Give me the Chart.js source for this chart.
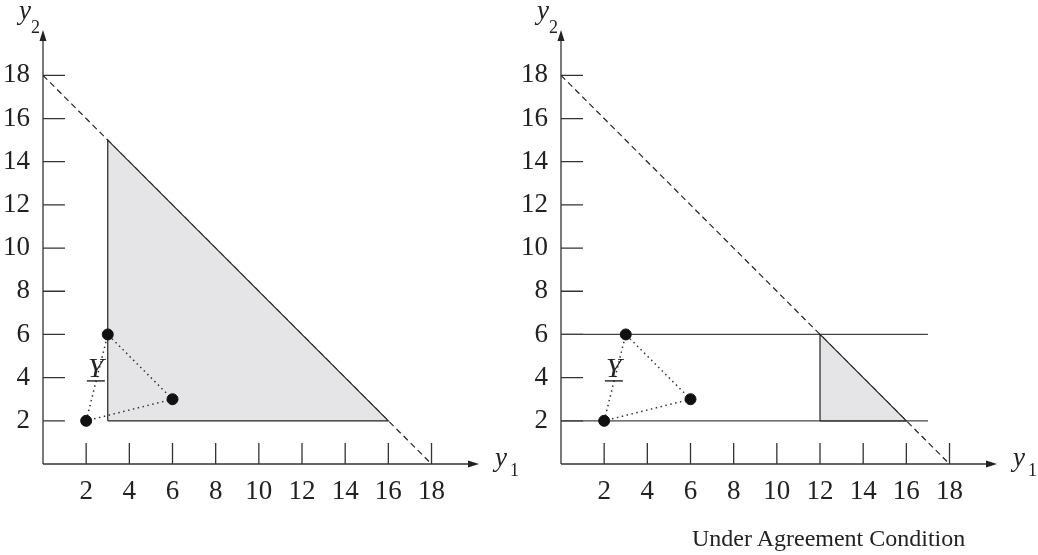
<!DOCTYPE html>
<html>
<head>
<meta charset="utf-8">
<script src="https://cdn.jsdelivr.net/npm/chart.js@4.4.0/dist/chart.umd.min.js"></script>
<style>
  html, body { margin: 0; padding: 0; background: #fff; }
  #wrap { position: relative; width: 1038px; height: 555px; }
  canvas { position: absolute; top: 0; }
  #left { left: 0; }
  #right { left: 518px; }
  #caption { position: absolute; left: 692px; top: 523px; font: 24px "Liberation Serif", serif; color: #222; line-height: 30px; white-space: nowrap; }
</style>
</head>
<body>
<div id="wrap">
  <canvas id="left" width="519" height="555"></canvas>
  <canvas id="right" width="519" height="555"></canvas>
  <div id="caption">Under Agreement Condition</div>
</div>
<script>
  'use strict';

  // axis ticks
  var ticksX = [2, 4, 6, 8, 10, 12, 14, 16, 18];
  var ticksY = [2, 4, 6, 8, 10, 12, 14, 16, 18];

  // dashed line y1 + y2 = 18
  var lineX = [0, 18];
  var lineY = [18, 0];

  // the three points of Y
  var pointsX = [2, 3, 6];
  var pointsY = [2, 6, 3];

  // shaded region, left panel
  var leftRegionX = [3, 3, 16, 3];
  var leftRegionY = [2, 15, 2, 2];

  // shaded region, right panel
  var rightRegionX = [12, 12, 16, 12];
  var rightRegionY = [2, 6, 2, 2];

  // horizontal bounds, right panel
  var boundsY = [2, 6];
  var boundsXEnd = 17;

  var serif = '"Liberation Serif", "Times New Roman", serif';

  function xy(xs, ys) {
    return xs.map(function (v, i) { return { x: v, y: ys[i] }; });
  }

  var axesPlugin = {
    id: 'axes',
    beforeDatasetsDraw: function (chart) {
      var ctx = chart.ctx, x = chart.scales.x, y = chart.scales.y;
      var x0 = x.getPixelForValue(0), y0 = y.getPixelForValue(0);
      var xEnd = x.getPixelForValue(x.max), yEnd = y.getPixelForValue(y.max);
      ctx.save();
      ctx.strokeStyle = '#333';
      ctx.fillStyle = '#222';
      ctx.lineWidth = 1.3;
      ctx.beginPath();
      ctx.moveTo(x0, y0); ctx.lineTo(xEnd - 6, y0);
      ctx.moveTo(x0, y0); ctx.lineTo(x0, yEnd + 6);
      ticksX.forEach(function (v) {
        var px = x.getPixelForValue(v);
        ctx.moveTo(px, y0); ctx.lineTo(px, y0 - 21);
      });
      ticksY.forEach(function (v) {
        var py = y.getPixelForValue(v);
        ctx.moveTo(x0, py); ctx.lineTo(x0 + 22, py);
      });
      ctx.stroke();
      // arrow heads
      ctx.beginPath();
      ctx.moveTo(xEnd, y0); ctx.lineTo(xEnd - 11, y0 - 3.5); ctx.lineTo(xEnd - 11, y0 + 3.5); ctx.closePath();
      ctx.moveTo(x0, yEnd); ctx.lineTo(x0 - 3.5, yEnd + 11); ctx.lineTo(x0 + 3.5, yEnd + 11); ctx.closePath();
      ctx.fill();
      ctx.restore();
    },
    afterDatasetsDraw: function (chart) {
      var ctx = chart.ctx, x = chart.scales.x, y = chart.scales.y;
      var x0 = x.getPixelForValue(0), y0 = y.getPixelForValue(0);
      var xEnd = x.getPixelForValue(x.max), yEnd = y.getPixelForValue(y.max);
      ctx.save();
      ctx.fillStyle = '#222';
      ctx.textBaseline = 'alphabetic';
      // y2 label
      ctx.font = 'italic 27px ' + serif;
      ctx.fillText('y', x0 - 24, yEnd - 11);
      ctx.font = '18px ' + serif;
      ctx.fillText('2', x0 - 12, yEnd + 3);
      // y1 label
      ctx.font = 'italic 27px ' + serif;
      ctx.fillText('y', xEnd + 16, y0 + 2);
      ctx.font = '18px ' + serif;
      ctx.fillText('1', xEnd + 31, y0 + 12);
      // Y label with underline
      var lx = x.getPixelForValue(2.45), ly = y.getPixelForValue(4.45);
      ctx.font = 'italic 28px ' + serif;
      ctx.textAlign = 'center';
      ctx.fillText('Y', lx, ly + 9);
      ctx.strokeStyle = '#222';
      ctx.lineWidth = 1.4;
      ctx.beginPath();
      ctx.moveTo(lx - 9, ly + 13); ctx.lineTo(lx + 9, ly + 13);
      ctx.stroke();
      ctx.restore();
    }
  };

  function makeChart(id, region, withBounds) {
    var datasets = [
      {
        data: xy(region.x, region.y),
        showLine: true, fill: 'shape', tension: 0,
        backgroundColor: '#e5e5e7', borderColor: '#222', borderWidth: 1.2,
        pointRadius: 0, order: 3
      },
      {
        data: xy(lineX, lineY),
        showLine: true, fill: false,
        borderColor: '#222', borderWidth: 1.2, borderDash: [6, 4],
        pointRadius: 0, order: 4
      },
      {
        data: xy(pointsX.concat(pointsX[0]), pointsY.concat(pointsY[0])),
        showLine: true, fill: false,
        borderColor: '#333', borderWidth: 1.5, borderDash: [1.5, 3.5],
        pointRadius: 0, order: 2
      },
      {
        data: xy(pointsX, pointsY),
        showLine: false,
        backgroundColor: '#111', borderColor: '#111',
        pointRadius: 5.5, order: 1
      }
    ];
    if (withBounds) {
      boundsY.forEach(function (b) {
        datasets.push({
          data: xy([0, boundsXEnd], [b, b]),
          showLine: true, fill: false,
          borderColor: '#444', borderWidth: 1.3,
          pointRadius: 0, order: 5
        });
      });
    }
    return new Chart(document.getElementById(id), {
      type: 'scatter',
      data: { datasets: datasets },
      options: {
        responsive: false,
        animation: false,
        devicePixelRatio: 1,
        layout: { padding: { top: 30, right: 40, left: 0, bottom: 0 } },
        plugins: { legend: { display: false }, tooltip: { enabled: false } },
        scales: {
          x: {
            type: 'linear', min: 0, max: 20.2,
            grid: { display: false }, border: { display: false },
            afterBuildTicks: function (s) { s.ticks = ticksX.map(function (v) { return { value: v }; }); },
            afterFit: function (s) { s.height = 91; },
            ticks: { color: '#222', padding: 4, maxRotation: 0, autoSkip: false, font: { family: serif, size: 27 } }
          },
          y: {
            type: 'linear', min: 0, max: 20.1,
            grid: { display: false }, border: { display: false },
            afterBuildTicks: function (s) { s.ticks = ticksY.map(function (v) { return { value: v }; }); },
            afterFit: function (s) { s.width = 43; },
            ticks: { color: '#222', padding: 5, autoSkip: false, font: { family: serif, size: 27 } }
          }
        }
      },
      plugins: [axesPlugin]
    });
  }

  makeChart('left', { x: leftRegionX, y: leftRegionY }, false);
  makeChart('right', { x: rightRegionX, y: rightRegionY }, true);
</script>
</body>
</html>
